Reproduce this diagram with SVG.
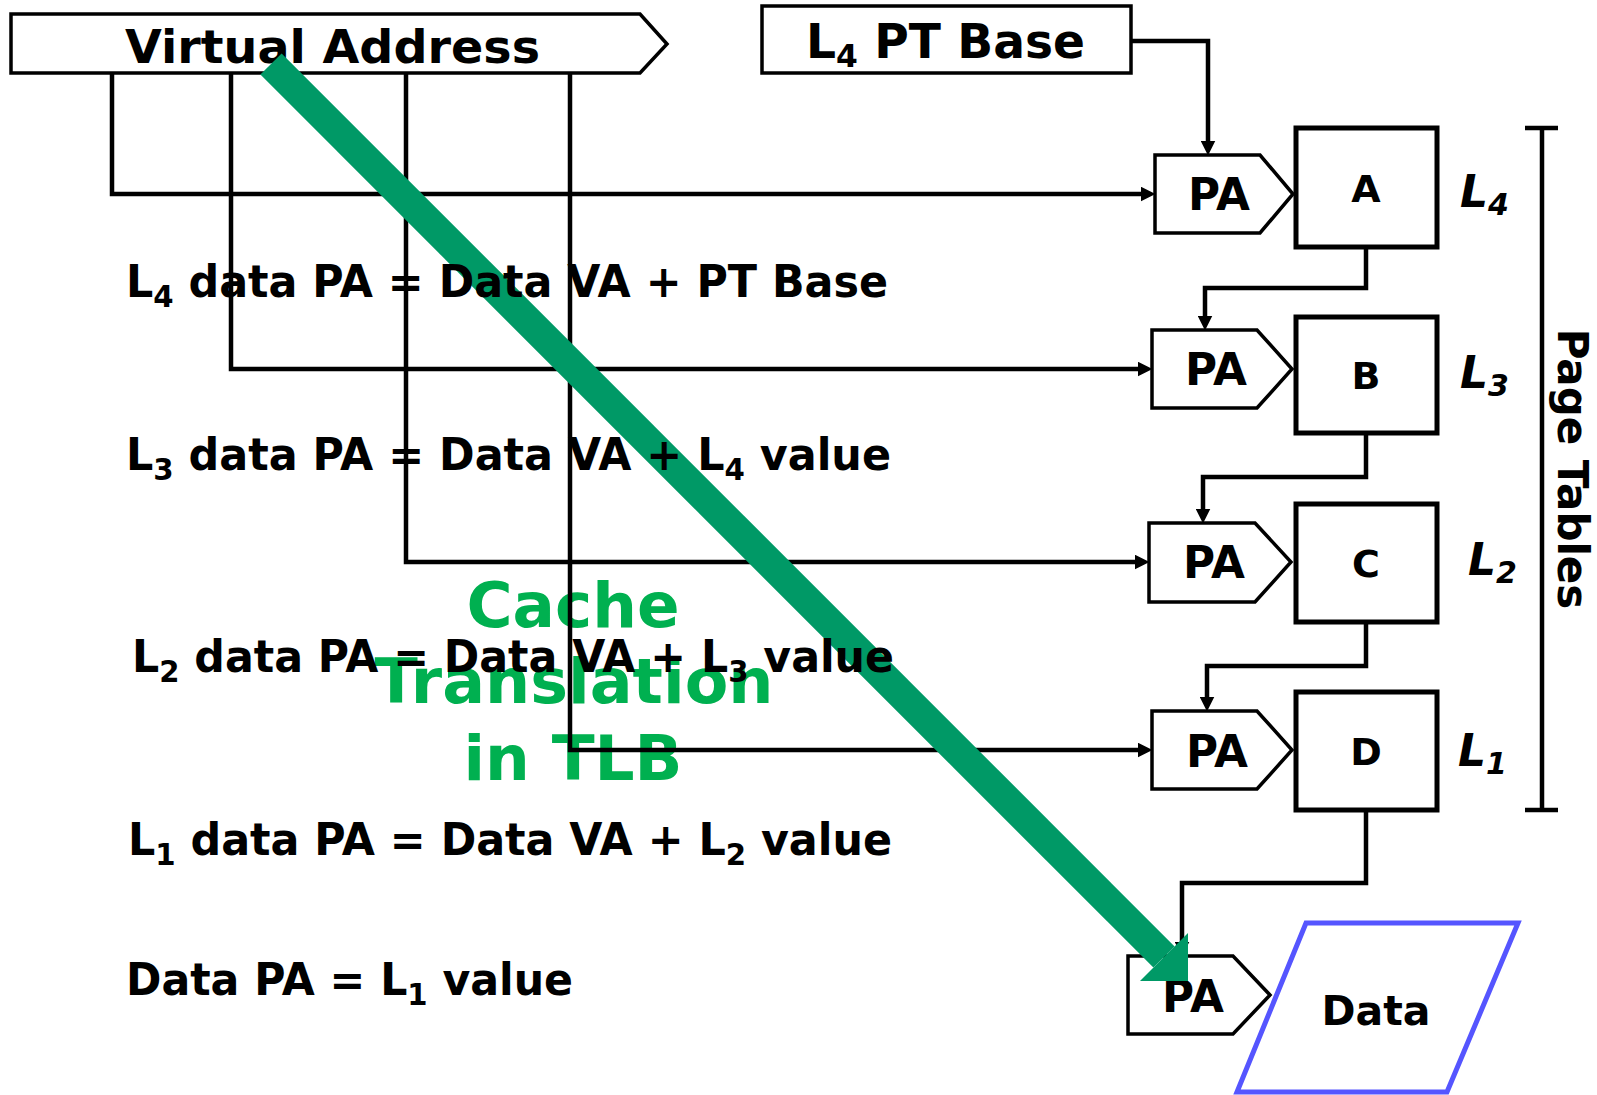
<svg xmlns="http://www.w3.org/2000/svg" width="1597" height="1095" viewBox="0 0 1597 1095">
  <style>
    .t { font-family: "DejaVu Sans", Verdana, sans-serif; font-weight: bold; fill: #000; }
    .it { font-style: italic; }
    .ln { fill: none; stroke: #000; stroke-width: 4.5; stroke-linejoin: miter; }
    .pa { fill: #fff; stroke: #000; stroke-width: 3.5; }
    .tbl { fill: #fff; stroke: #000; stroke-width: 5; }
    .hdr { fill: #fff; stroke: #000; stroke-width: 3.5; }
    .grn { font-family: "DejaVu Sans", Verdana, sans-serif; font-weight: bold; fill: #00B050; font-size: 63px; }
    .f { font-size: 44px; }
  </style>
  <defs>
    <marker id="ah" viewBox="0 0 12 12" refX="6" refY="6" markerWidth="15" markerHeight="15" markerUnits="userSpaceOnUse" orient="auto">
      <path d="M0,0 L12,6 L0,12 z" fill="#000"/>
    </marker>
  </defs>

  <rect width="1597" height="1095" fill="#fff"/>

  <!-- background label -->
  <g id="tlb-label">
    <text class="grn" x="573" y="627" text-anchor="middle" textLength="213" lengthAdjust="spacingAndGlyphs">Cache</text>
    <text class="grn" x="574" y="703" text-anchor="middle" textLength="399" lengthAdjust="spacingAndGlyphs">Translation</text>
    <text class="grn" x="573" y="780" text-anchor="middle" textLength="219" lengthAdjust="spacingAndGlyphs">in TLB</text>
  </g>

  <!-- connectors -->
  <g id="connectors">
    <path class="ln" d="M112,73 V194 H1148" marker-end="url(#ah)"/>
    <path class="ln" d="M231,73 V369 H1145" marker-end="url(#ah)"/>
    <path class="ln" d="M406,73 V562 H1142" marker-end="url(#ah)"/>
    <path class="ln" d="M570,73 V750 H1145" marker-end="url(#ah)"/>
    <path class="ln" d="M1131,41 H1208 V148" marker-end="url(#ah)"/>
    <path class="ln" d="M1366,247 V288 H1205 V323" marker-end="url(#ah)"/>
    <path class="ln" d="M1366,433 V477 H1203 V516" marker-end="url(#ah)"/>
    <path class="ln" d="M1366,622 V666 H1207 V704" marker-end="url(#ah)"/>
    <path class="ln" d="M1366,810 V883 H1182 V949" marker-end="url(#ah)"/>
  </g>

  <!-- virtual address -->
  <g id="virtual-address">
    <path class="hdr" d="M11,14 H640 L667,44 L640,73 H11 Z"/>
    <text class="t" x="125" y="63" font-size="47" textLength="415" lengthAdjust="spacingAndGlyphs">Virtual Address</text>
  </g>

  <!-- page table base register -->
  <g id="pt-base">
    <rect class="hdr" x="762" y="6" width="369" height="67"/>
    <text class="t" x="806" y="58" font-size="48" textLength="279" lengthAdjust="spacingAndGlyphs">L<tspan font-size="32" dy="9">4</tspan><tspan dy="-9"> PT Base</tspan></text>
  </g>

  <!-- level 4 -->
  <g id="pa-a">
    <path class="pa" d="M1155,155 H1260 L1293,194 L1260,233 H1155 Z"/>
    <text class="t" x="1188" y="210" font-size="44" textLength="62" lengthAdjust="spacingAndGlyphs">PA</text>
  </g>
  <g id="table-a">
    <rect class="tbl" x="1296" y="128" width="141" height="119"/>
    <text class="t" x="1366" y="202" font-size="38" text-anchor="middle">A</text>
  </g>
  <text class="t it" x="1460" y="207" font-size="44">L<tspan font-size="30" dy="8">4</tspan></text>

  <!-- level 3 -->
  <g id="pa-b">
    <path class="pa" d="M1152,330 H1257 L1292,369 L1257,408 H1152 Z"/>
    <text class="t" x="1185" y="385" font-size="44" textLength="62" lengthAdjust="spacingAndGlyphs">PA</text>
  </g>
  <g id="table-b">
    <rect class="tbl" x="1296" y="317" width="141" height="116"/>
    <text class="t" x="1366" y="389" font-size="38" text-anchor="middle">B</text>
  </g>
  <text class="t it" x="1460" y="388" font-size="44">L<tspan font-size="30" dy="8">3</tspan></text>

  <!-- level 2 -->
  <g id="pa-c">
    <path class="pa" d="M1149,523 H1255 L1291,562 L1255,602 H1149 Z"/>
    <text class="t" x="1183" y="578" font-size="44" textLength="62" lengthAdjust="spacingAndGlyphs">PA</text>
  </g>
  <g id="table-c">
    <rect class="tbl" x="1296" y="504" width="141" height="118"/>
    <text class="t" x="1366" y="577" font-size="38" text-anchor="middle">C</text>
  </g>
  <text class="t it" x="1468" y="575" font-size="44">L<tspan font-size="30" dy="8">2</tspan></text>

  <!-- level 1 -->
  <g id="pa-d">
    <path class="pa" d="M1152,711 H1257 L1292,750 L1257,789 H1152 Z"/>
    <text class="t" x="1186" y="767" font-size="44" textLength="62" lengthAdjust="spacingAndGlyphs">PA</text>
  </g>
  <g id="table-d">
    <rect class="tbl" x="1296" y="692" width="141" height="118"/>
    <text class="t" x="1366" y="765" font-size="38" text-anchor="middle">D</text>
  </g>
  <text class="t it" x="1458" y="766" font-size="44">L<tspan font-size="30" dy="8">1</tspan></text>

  <!-- page tables bracket -->
  <g id="page-tables">
    <path class="ln" d="M1525,128 H1558 M1542,128 V810 M1525,810 H1558" stroke-width="3"/>
    <text class="t" font-size="42" text-anchor="middle" transform="translate(1558,469) rotate(90)">Page Tables</text>
  </g>

  <!-- data access -->
  <g id="pa-data">
    <path class="pa" d="M1128,956 H1233 L1270,995 L1233,1034 H1128 Z"/>
    <text class="t" x="1162" y="1012" font-size="44" textLength="62" lengthAdjust="spacingAndGlyphs">PA</text>
  </g>
  <g id="data">
    <path d="M1306,923 H1518 L1447,1092 H1237 Z" fill="#fff" stroke="#5555FF" stroke-width="5"/>
    <text class="t" x="1376" y="1025" font-size="41" text-anchor="middle">Data</text>
  </g>

  <!-- TLB shortcut arrow -->
  <g id="tlb-arrow" fill="#009966">
    <path d="M271,64 L1164,957" stroke="#009966" stroke-width="30" fill="none"/>
    <polygon points="1188,933 1188,981 1140,981"/>
  </g>

  <!-- address formulas -->
  <g id="formulas">
    <text class="t f" x="126" y="297" textLength="762" lengthAdjust="spacingAndGlyphs">L<tspan font-size="30" dy="10">4</tspan><tspan dy="-10"> data PA = Data VA + PT Base</tspan></text>
    <text class="t f" x="126" y="470" textLength="765" lengthAdjust="spacingAndGlyphs">L<tspan font-size="30" dy="10">3</tspan><tspan dy="-10"> data PA = Data VA + L</tspan><tspan font-size="30" dy="10">4</tspan><tspan dy="-10"> value</tspan></text>
    <text class="t f" x="132" y="672" textLength="762" lengthAdjust="spacingAndGlyphs">L<tspan font-size="30" dy="10">2</tspan><tspan dy="-10"> data PA = Data VA + L</tspan><tspan font-size="30" dy="10">3</tspan><tspan dy="-10"> value</tspan></text>
    <text class="t f" x="128" y="855" textLength="764" lengthAdjust="spacingAndGlyphs">L<tspan font-size="30" dy="10">1</tspan><tspan dy="-10"> data PA = Data VA + L</tspan><tspan font-size="30" dy="10">2</tspan><tspan dy="-10"> value</tspan></text>
    <text class="t f" x="126" y="995" textLength="447" lengthAdjust="spacingAndGlyphs">Data PA = L<tspan font-size="30" dy="10">1</tspan><tspan dy="-10"> value</tspan></text>
  </g>
</svg>
